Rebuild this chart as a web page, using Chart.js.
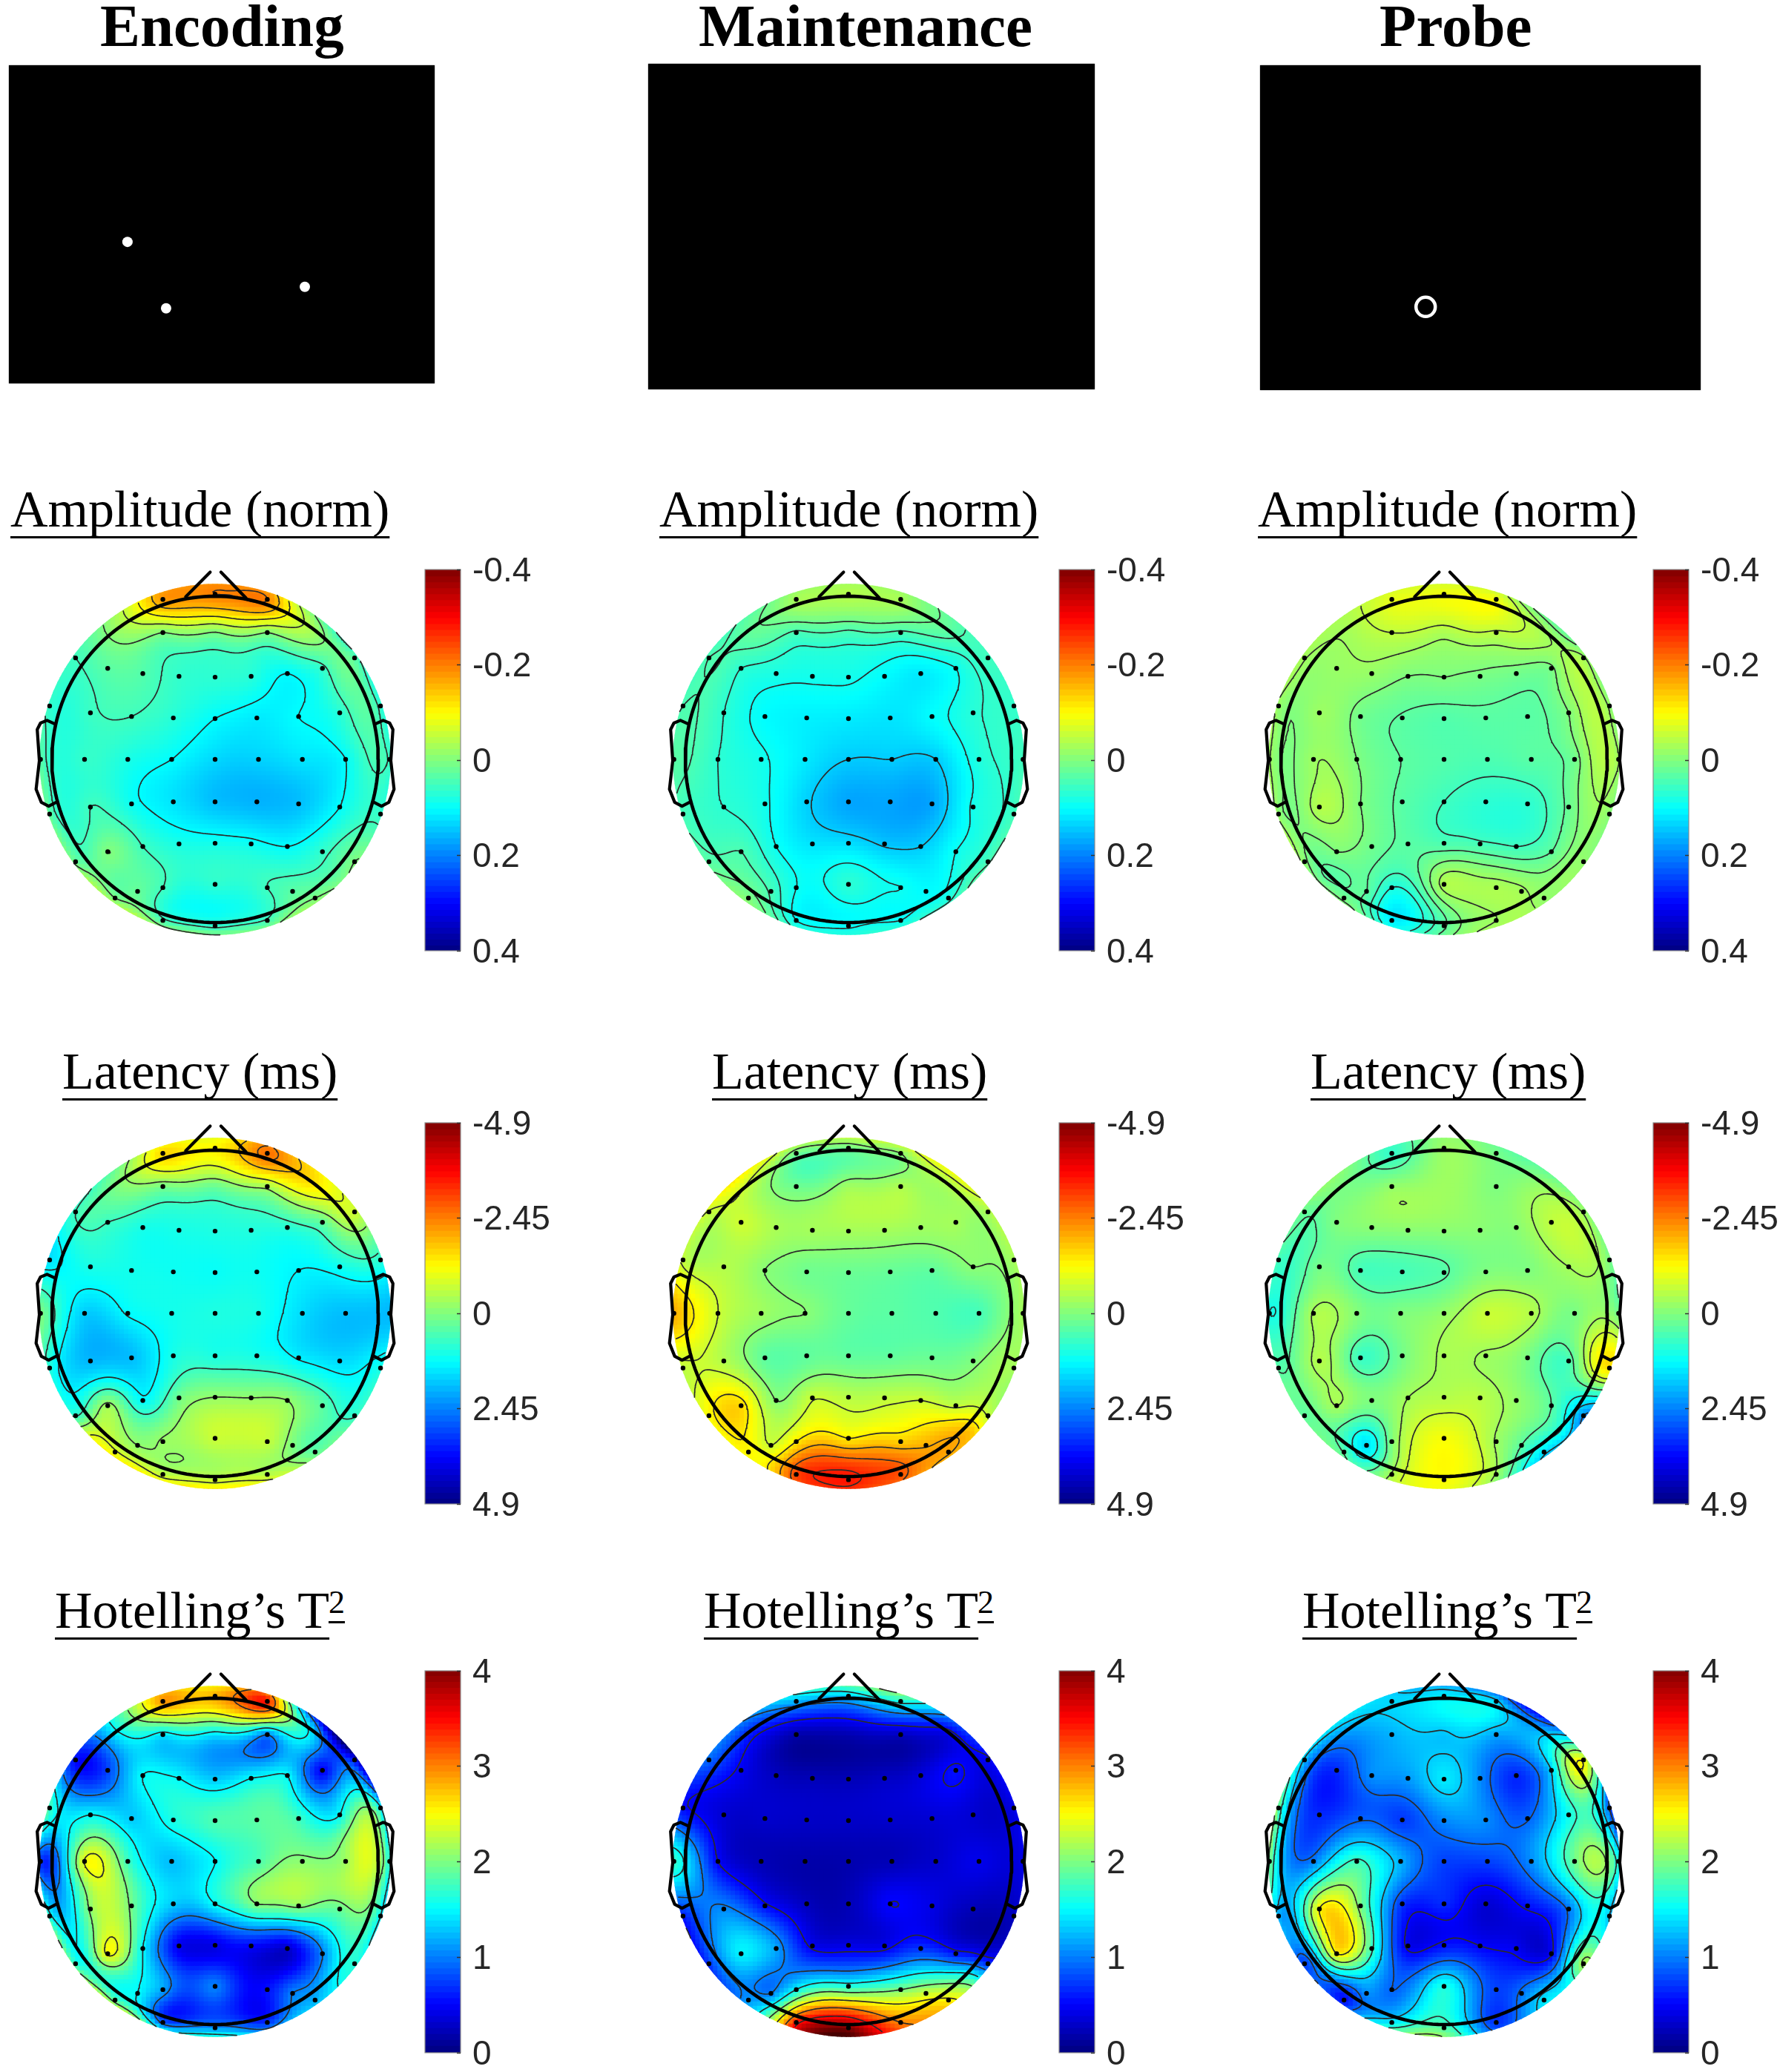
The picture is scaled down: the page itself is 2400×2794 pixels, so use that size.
<!DOCTYPE html>
<html>
<head>
<meta charset="utf-8">
<script src="https://cdn.jsdelivr.net/npm/chart.js@4"></script>
<style>
body { margin: 0; background: #fff; }
#page { position: relative; width: 2400px; height: 2794px; overflow: hidden; }
canvas { position: absolute; }
.head, .sub, .sup { position: absolute; white-space: nowrap; font-family: "Liberation Serif", serif; color: #000; line-height: 1.107; }
.head { font-weight: bold; font-size: 81px; }
.sub { font-size: 70px; text-decoration: underline; text-decoration-thickness: 3px; text-underline-offset: 13px; text-decoration-skip-ink: none; }
.sup { font-size: 44px; text-decoration: underline; text-decoration-thickness: 3px; text-underline-offset: 11px; text-decoration-skip-ink: none; }
</style>
</head>
<body>
<div id="page"></div>
<script>
// electrode positions in head radii, rows from nose to back
const elecX = [-0.32,0,0.32, -0.32,0.32, -0.855,0.855,
  -0.658,-0.443,-0.221,0,0.221,0.443,0.658, -1.014,1.014,
  -0.764,-0.512,-0.256,0,0.256,0.512,0.764,
  -1.07,-0.8,-0.535,-0.266,0,0.266,0.535,0.8,1.07,
  -0.764,-0.512,-0.256,0,0.256,0.512,0.764, -1.014,1.014,
  -0.658,-0.443,-0.221,0,0.221,0.443,0.658, -0.855,0.855,
  -0.475,-0.32,0,0.32,0.475, -0.613,0.613, -0.32,0,0.32];
const elecY = [0.981,1.013,0.981, 0.777,0.777, 0.622,0.622,
  0.558,0.526,0.509,0.504,0.509,0.526,0.558, 0.327,0.327,
  0.285,0.263,0.254,0.25,0.254,0.263,0.285,
  0,0,0,0,0,0,0,0,0,
  -0.292,-0.273,-0.26,-0.26,-0.26,-0.273,-0.292, -0.335,-0.335,
  -0.566,-0.534,-0.518,-0.514,-0.518,-0.534,-0.566, -0.627,-0.627,
  -0.809,-0.786,-0.766,-0.786,-0.809, -0.85,-0.85, -0.987,-1.02,-0.987];
// places without a dot where the map was read too, last 5 values of each list below
const extraX = [0,-0.6,0.6,-0.75,0.75];
const extraY = [0.78,0.8,0.8,-0.72,-0.72];

// channel values, same order as elecX / elecY, then extraX / extraY
const ampEncoding = [-0.18,-0.2,-0.2, 0,0, 0.05,0.03,
  0.03,0.035,0.06,0.065,0.07,0.1,0.06, 0.06,0.06,
  0.055,0.05,0.07,0.1,0.115,0.1,0.07,
  0.03,0.06,0.08,0.1,0.13,0.135,0.12,0.1,0.055,
  0.05,0.09,0.12,0.15,0.16,0.15,0.1, 0.025,0.06,
  0,0.05,0.08,0.085,0.09,0.1,0.06, 0.015,0,
  0.02,0.05,0.065,0.05,0.03, 0,0, 0.04,0.06,0.045,
  0,-0.02,-0.03,-0.005,0.02];
const ampMaintenance = [-0.03,-0.04,-0.03, 0.045,0.045, 0.04,0.05,
  0.065,0.08,0.085,0.085,0.1,0.115,0.09, 0.04,0.06,
  0.065,0.1,0.11,0.115,0.12,0.1,0.07,
  0.03,0.065,0.085,0.115,0.14,0.14,0.14,0.075,0.05,
  0.065,0.085,0.135,0.17,0.17,0.17,0.085, 0.045,0.05,
  0.04,0.09,0.12,0.125,0.145,0.14,0.09, 0.03,0.045,
  0.045,0.09,0.067,0.09,0.1, 0,0.075, 0.09,0.095,0.09,
  0.045,0.02,0.025,0.015,0.05];
const ampProbe = [-0.08,-0.09,-0.09, -0.05,-0.045, -0.027,-0.03,
  -0.02,-0.018,0,0,0.005,0.01,0.005, -0.018,-0.02,
  -0.022,0.01,0.027,0.035,0.03,0.03,0,
  -0.027,-0.022,0,0.025,0.035,0.04,0.03,0.012,-0.027,
  -0.04,0,0.03,0.05,0.065,0.065,0.018, -0.015,-0.01,
  0,0.012,0.03,0.04,0.045,0.05,0.025, -0.01,-0.015,
  0.025,0.075,-0.035,-0.035,-0.03, 0.01,-0.015, 0.11,0.03,-0.025,
  -0.035,-0.03,-0.03,0.02,-0.02];
const latEncoding = [-1.6,-1.3,-2.6, 0.1,-0.35, 0.65,-0.75,
  0.65,1,1,0.95,0.9,0.85,0.3, 1.5,0.85,
  1,1.05,1.1,1.15,1.1,1.3,1.1,
  0,1.7,1.25,1.05,0.95,1,1.55,1.85,1.9,
  1.9,1.85,1,0.95,1,1.35,1.55, 0.9,1,
  -0.35,1.2,0.15,-0.2,-0.2,-0.2,0.35, 0.7,0.7,
  -0.2,-0.25,-0.7,-0.65,0, -1,0.3, -0.65,-0.7,-0.55,
  0.2,0,-1.5,-0.7,0.4];
const latMaintenance = [0.15,0.15,-0.1, 0.15,-0.45, -0.7,-0.4,
  -0.75,-0.4,-0.35,-0.35,-0.35,-0.3,-0.35, -0.65,-0.35,
  -0.5,-0.1,0.15,0.2,0.25,0.3,-0.1,
  -2,-0.75,-0.3,-0.1,0.25,0.35,0.45,0.55,-0.35,
  -0.5,0.3,0.3,0.3,0.3,0.2,0, -0.6,-0.35,
  -1.6,-0.1,-0.7,-0.55,-0.6,-0.75,-0.65, -1.2,-0.7,
  -0.75,-1.4,-1.4,-1.7,-2, -1.3,-2.1, -3,-3.5,-2.9,
  -0.3,-0.65,-0.45,-1.4,-1.8];
const latProbe = [0.7,-0.25,0.1, -0.2,0, 0.25,-0.3,
  0,-0.1,-0.1,-0.1,-0.1,-0.1,-0.6, 0.6,0,
  0.1,0.55,0.55,0.4,0,0,-0.35,
  1,-0.4,-0.05,0,-0.2,-0.7,-0.5,0.05,0.1,
  -0.5,0.65,0.1,-0.4,-0.3,0.05,0.55, 0.4,-1.5,
  -0.35,0,-0.35,-0.5,-0.55,-0.2,0.35, 0.3,2.3,
  1.5,0,-1.15,-0.3,0.35, 0.4,1.5, -0.4,-1.2,-0.3,
  -0.3,0.05,-0.15,0.2,1.3];
const t2Encoding = [2.9,2.8,3.4, 1.4,1, 0.55,0.55,
  0.75,1.5,1.5,1.3,1.5,1.5,0.5, 1.75,1.55,
  1.5,1.3,1.6,1.8,1.85,1.75,1.5,
  0.7,2.42,1.75,1.25,1.5,1.8,2.05,2.12,1.6,
  2.05,1.95,1.3,1.5,2,2.05,1.9, 1.6,1.5,
  2.45,1.5,0.45,0.4,0.5,0.3,1, 1.7,1.65,
  1.5,1.15,1,0.55,1, 1.85,1.2, 0.9,1.1,0.7,
  1.4,1.5,1.35,1.8,1.5];
const t2Maintenance = [1.2,1.3,1.6, 0.18,0.25, 0.9,0.45,
  0.45,0.25,0.22,0.22,0.27,0.35,0.55, 0.55,0.4,
  0.33,0.3,0.28,0.28,0.3,0.33,0.32,
  1.7,0.5,0.22,0.17,0.18,0.22,0.3,0.42,0.4,
  1.05,0.55,0.25,0.22,0.5,0.4,0.22, 0.6,0.25,
  1.45,1.15,0.45,0.4,0.42,0.7,0.6, 0.7,0.7,
  1,1.5,1.65,2,2.3, 1.1,2.55, 3.4,4,3,
  0.2,0.65,0.45,0.9,1.75];
const t2Probe = [1.35,1.45,1.35, 1.2,1.15, 1.25,2.45,
  0.65,1.05,1.1,1.42,1.05,0.65,1.3, 1.9,0.9,
  0.65,0.87,0.72,1.02,1.05,0.88,1.55,
  2,1,1.75,1.2,0.75,0.75,1.05,1.92,1.55,
  2.5,2,0.7,0.65,0.33,0.55,0.95, 1.2,1.3,
  2.5,1.75,0.45,0.55,0.5,0.45,0.47, 0.75,2.15,
  1.05,0.9,1.6,0.75,0.95, 0.55,1.4, 1.45,1.85,0.7,
  1.27,1.15,1.2,0.9,1.45];

// contour levels of each map
const ampEncodingLevels = [-0.2,-0.15,-0.1,-0.05,0,0.05,0.1];
const ampMaintenanceLevels = [0.015,0.04,0.065,0.09,0.14];
const ampProbeLevels = [-0.05,-0.025,0,0.025,0.05,0.075];
const latEncodingLevels = [-2.4,-1.8,-0.9,-0.2,0.65,1.3];
const latMaintenanceLevels = [-3.35,-2.7,-2.05,-1.4,-0.75,-0.1];
const latProbeLevels = [-0.75,-0.35,0.35,1,1.65,2.3];
const t2EncodingLevels = [1,1.5,2,2.4,3];
const t2MaintenanceLevels = [0.5,1,1.5,2,2.5,3,3.5];
const t2ProbeLevels = [0.5,0.9,1.3,1.7,2.1,2.5];

// colorbar ticks
const ampTicks = [-0.4,-0.2,0,0.2,0.4];
const latTicks = [-4.9,-2.45,0,2.45,4.9];
const t2Ticks = [0,1,2,3,4];

// nose and ears in head radii
const noseLeftX = [-0.18,-0.03], noseLeftY = [0.997,1.148];
const noseRightX = [0.19,0.036], noseRightY = [0.989,1.148];
const earX = [0.978,1.03,1.07,1.09,1.077,1.097,1.065,1.02,0.974];
const earY = [0.215,0.239,0.223,0.183,-0.008,-0.183,-0.263,-0.287,-0.263];

// stimulus screens, positions as fraction of the screen
const encodingDotsX = [0.273,0.366,0.7], encodingDotsY = [0.557,0.773,0.703];
const probeRingX = [0.368], probeRingY = [0.765];

const columnTitles = ['Encoding','Maintenance','Probe'];
const ampTitle = 'Amplitude (norm)', latTitle = 'Latency (ms)', t2Title = 'Hotelling’s T';

const page = document.getElementById('page');
const HEAD_R = 224, RIM = 1.076;
const colCx = [289.7,1144,1946.5], rowCy = [1024,1771,2510];
const barLeft = [573,1428,2229], barTop = [768,1514,2253], barH = [514,514,515];
const nodeX = elecX.concat(extraX), nodeY = elecY.concat(extraY);

Chart.defaults.animation = false;
Chart.defaults.events = [];
Chart.defaults.plugins.legend.display = false;
Chart.defaults.plugins.tooltip.enabled = false;

function addCanvas(l, t, w, h) {
    const c = document.createElement('canvas');
    c.width = w; c.height = h;
    c.style.left = l + 'px'; c.style.top = t + 'px';
    c.style.width = w + 'px'; c.style.height = h + 'px';
    page.appendChild(c);
    return c;
}

function addText(cls, text, x, baseline, size) {
    const d = document.createElement('div');
    d.className = cls;
    d.textContent = text;
    d.style.left = x + 'px';
    d.style.top = (baseline - 0.891 * size) + 'px';
    page.appendChild(d);
}

function jet(t) {
    const c = v => Math.round(255 * Math.max(0, Math.min(1, v)));
    return `rgb(${c(1.5 - Math.abs(4 * t - 3))},${c(1.5 - Math.abs(4 * t - 2))},${c(1.5 - Math.abs(4 * t - 1))})`;
}

function green(r) {
    return r < 1e-9 ? 0 : r * r * (Math.log(r) - 1);
}

// biharmonic spline like griddata v4, that is what topoplot uses
function splineWeights(values) {
    const n = values.length;
    const m = [];
    for (let i = 0; i < n; i++) {
        const row = [];
        for (let j = 0; j < n; j++) row.push(green(Math.hypot(nodeX[i] - nodeX[j], nodeY[i] - nodeY[j])));
        row.push(values[i]);
        m.push(row);
    }
    for (let i = 0; i < n; i++) {
        let p = i;
        for (let k = i + 1; k < n; k++) if (Math.abs(m[k][i]) > Math.abs(m[p][i])) p = k;
        [m[i], m[p]] = [m[p], m[i]];
        for (let k = i + 1; k < n; k++) {
            const f = m[k][i] / m[i][i];
            for (let j = i; j <= n; j++) m[k][j] -= f * m[i][j];
        }
    }
    const w = new Array(n);
    for (let i = n - 1; i >= 0; i--) {
        let s = m[i][n];
        for (let j = i + 1; j < n; j++) s -= m[i][j] * w[j];
        w[i] = s / m[i][i];
    }
    return w;
}

function fieldAt(w, x, y) {
    let s = 0;
    for (let i = 0; i < w.length; i++) s += w[i] * green(Math.hypot(x - nodeX[i], y - nodeY[i]));
    return s;
}

function heatCells(w, toT) {
    const N = 81, pts = [], cols = [], step = 2 * 1.1 / N;
    for (let i = 0; i < N; i++) {
        for (let j = 0; j < N; j++) {
            const x = -1.1 + (i + 0.5) * step, y = -1.1 + (j + 0.5) * step;
            if (Math.hypot(x, y) > RIM + step) continue;
            pts.push({ x, y });
            cols.push(jet(toT(fieldAt(w, x, y))));
        }
    }
    return { pts, cols, halfPx: step * HEAD_R / 2 };
}

// marching squares, segments separated by null points
function contourLines(w, levels) {
    const N = 150, step = 2 * 1.1 / N, z = [];
    for (let i = 0; i <= N; i++) {
        z.push([]);
        for (let j = 0; j <= N; j++) z[i].push(fieldAt(w, -1.1 + i * step, -1.1 + j * step));
    }
    const out = [];
    levels.forEach(lv => {
        for (let i = 0; i < N; i++) {
            for (let j = 0; j < N; j++) {
                const x0 = -1.1 + i * step, y0 = -1.1 + j * step;
                const a = z[i][j], b = z[i + 1][j], c = z[i + 1][j + 1], d = z[i][j + 1];
                const hits = [];
                if ((a < lv) !== (b < lv)) hits.push({ x: x0 + step * (lv - a) / (b - a), y: y0 });
                if ((b < lv) !== (c < lv)) hits.push({ x: x0 + step, y: y0 + step * (lv - b) / (c - b) });
                if ((d < lv) !== (c < lv)) hits.push({ x: x0 + step * (lv - d) / (c - d), y: y0 + step });
                if ((a < lv) !== (d < lv)) hits.push({ x: x0, y: y0 + step * (lv - a) / (d - a) });
                for (let k = 0; k + 1 < hits.length; k += 2) {
                    if (Math.hypot(hits[k].x, hits[k].y) > RIM || Math.hypot(hits[k + 1].x, hits[k + 1].y) > RIM) continue;
                    out.push(hits[k], hits[k + 1], { x: hits[k].x, y: null });
                }
            }
        }
    });
    return out;
}

function lineData(xs, ys, flip) {
    return xs.map((x, i) => ({ x: flip ? -x : x, y: ys[i] }));
}

function outline(data, width, order) {
    return { data, showLine: true, borderColor: '#000', borderWidth: width, pointRadius: 0, order, tension: 0, borderCapStyle: 'round', borderJoinStyle: 'round', clip: false };
}

const rimClip = {
    id: 'rimClip',
    beforeDatasetDraw(chart, args) {
        if (args.index !== 0) return;
        const sx = chart.scales.x, sy = chart.scales.y;
        const ctx = chart.ctx;
        ctx.save();
        ctx.beginPath();
        ctx.arc(sx.getPixelForValue(0), sy.getPixelForValue(0), sx.getPixelForValue(RIM) - sx.getPixelForValue(0), 0, Math.PI * 2);
        ctx.clip();
    },
    afterDatasetDraw(chart, args) {
        if (args.index === 0) chart.ctx.restore();
    }
};

function drawTopo(col, row, values, levels, toT) {
    const w = splineWeights(values);
    const heat = heatCells(w, toT);
    const circle = [];
    for (let a = 0; a <= 360; a += 2) circle.push({ x: Math.cos(a * Math.PI / 180), y: Math.sin(a * Math.PI / 180) });
    new Chart(addCanvas(colCx[col] - 280, rowCy[row] - 280, 560, 560), {
        type: 'scatter',
        data: {
            datasets: [
                { data: heat.pts, pointStyle: 'rect', pointRadius: (heat.halfPx + 0.5) * Math.SQRT2, pointBorderWidth: 0, pointBackgroundColor: heat.cols, order: 6, clip: false },
                { data: contourLines(w, levels), showLine: true, spanGaps: false, borderColor: '#2b2b2b', borderWidth: 1.7, pointRadius: 0, tension: 0, borderCapStyle: 'round', order: 5, clip: false },
                { data: lineData(elecX, elecY), pointRadius: 3.2, pointBorderWidth: 0, pointBackgroundColor: '#000', order: 4, clip: false },
                outline(circle, 4.6, 3),
                outline(lineData(noseLeftX, noseLeftY), 4.2, 2),
                outline(lineData(noseRightX, noseRightY), 4.2, 2),
                outline(lineData(earX, earY), 4.2, 1),
                outline(lineData(earX, earY, true), 4.2, 1)
            ]
        },
        options: {
            responsive: false,
            scales: {
                x: { type: 'linear', min: -1.25, max: 1.25, display: false },
                y: { type: 'linear', min: -1.25, max: 1.25, display: false }
            }
        },
        plugins: [rimClip]
    });
}

const barFrame = {
    id: 'barFrame',
    afterDatasetsDraw(chart) {
        const a = chart.chartArea, ctx = chart.ctx;
        ctx.save();
        ctx.strokeStyle = '#8a8a8a';
        ctx.lineWidth = 1.2;
        ctx.strokeRect(a.left, a.top, a.right - a.left, a.bottom - a.top);
        ctx.restore();
    }
};

function drawBar(col, row, ticks, toT) {
    const lo = Math.min(...ticks), hi = Math.max(...ticks), n = 64, dv = (hi - lo) / n;
    const datasets = [];
    for (let i = 0; i < n; i++) {
        const a = lo + i * dv;
        datasets.push({ data: [[a - dv * 0.1, a + dv * 1.1]], backgroundColor: jet(toT(a + dv / 2)), borderWidth: 0, grouped: false, barPercentage: 1, categoryPercentage: 1 });
    }
    const W = 240, PAD = 34;
    new Chart(addCanvas(barLeft[col] - 2, barTop[row] - PAD, W, barH[row] + 2 * PAD), {
        type: 'bar',
        data: { labels: [''], datasets },
        options: {
            responsive: false,
            layout: { padding: { left: 2, top: PAD, bottom: PAD, right: 0 } },
            scales: {
                x: { display: false },
                y: {
                    position: 'right',
                    min: lo, max: hi,
                    reverse: ticks[0] < 0,
                    afterFit: s => { s.width = W - 2 - 48; s.paddingTop = 0; s.paddingBottom = 0; },
                    afterBuildTicks: s => { s.ticks = ticks.map(v => ({ value: v })); },
                    border: { display: false },
                    grid: { drawOnChartArea: false, drawTicks: true, tickLength: -5, tickColor: '#333', tickWidth: 1.5, z: 1 },
                    ticks: {
                        padding: 21,
                        labelOffset: 3,
                        color: '#262626',
                        autoSkip: false,
                        maxRotation: 0,
                        font: { family: '"Liberation Sans", Arial, sans-serif', size: 46 },
                        callback: v => String(v)
                    }
                }
            }
        },
        plugins: [barFrame]
    });
}

function drawScreen(l, t, w, h, xs, ys, ring) {
    const c = addCanvas(l, t, w, h);
    c.style.background = '#000';
    c.style.boxShadow = '0 0 1.5px #666';
    new Chart(c, {
        type: 'scatter',
        data: {
            datasets: [{
                data: lineData(xs, ys),
                pointRadius: ring ? 13 : 7,
                pointBorderWidth: ring ? 4.5 : 0,
                pointBorderColor: '#fff',
                pointBackgroundColor: ring ? 'rgba(0,0,0,0)' : '#fff'
            }]
        },
        options: {
            responsive: false,
            scales: {
                x: { type: 'linear', min: 0, max: 1, display: false },
                y: { type: 'linear', min: 0, max: 1, reverse: true, display: false }
            }
        }
    });
}

addText('head', columnTitles[0], 135, 63, 81);
addText('head', columnTitles[1], 942, 63, 81);
addText('head', columnTitles[2], 1860, 63, 81);

drawScreen(12, 88, 574, 429, encodingDotsX, encodingDotsY, false);
drawScreen(874, 86, 602, 439, [], [], false);
drawScreen(1699, 88, 594, 438, probeRingX, probeRingY, true);

[14, 889, 1696].forEach(x => addText('sub', ampTitle, x, 710, 70));
[84, 960, 1767].forEach(x => addText('sub', latTitle, x, 1468, 70));
[74, 949, 1756].forEach(x => {
    addText('sub', t2Title, x, 2195, 70);
    addText('sup', '2', x + 369, 2176, 44);
});

const ampT = v => (0.4 - v) / 0.8;
const latT = v => (4.9 - v) / 9.8;
const t2T = v => v / 4;

const rows = [
    { maps: [ampEncoding, ampMaintenance, ampProbe], levels: [ampEncodingLevels, ampMaintenanceLevels, ampProbeLevels], ticks: ampTicks, toT: ampT },
    { maps: [latEncoding, latMaintenance, latProbe], levels: [latEncodingLevels, latMaintenanceLevels, latProbeLevels], ticks: latTicks, toT: latT },
    { maps: [t2Encoding, t2Maintenance, t2Probe], levels: [t2EncodingLevels, t2MaintenanceLevels, t2ProbeLevels], ticks: t2Ticks, toT: t2T }
];

rows.forEach((r, row) => {
    r.maps.forEach((values, col) => {
        drawTopo(col, row, values, r.levels[col], r.toT);
        drawBar(col, row, r.ticks, r.toT);
    });
});
</script>
</body>
</html>
